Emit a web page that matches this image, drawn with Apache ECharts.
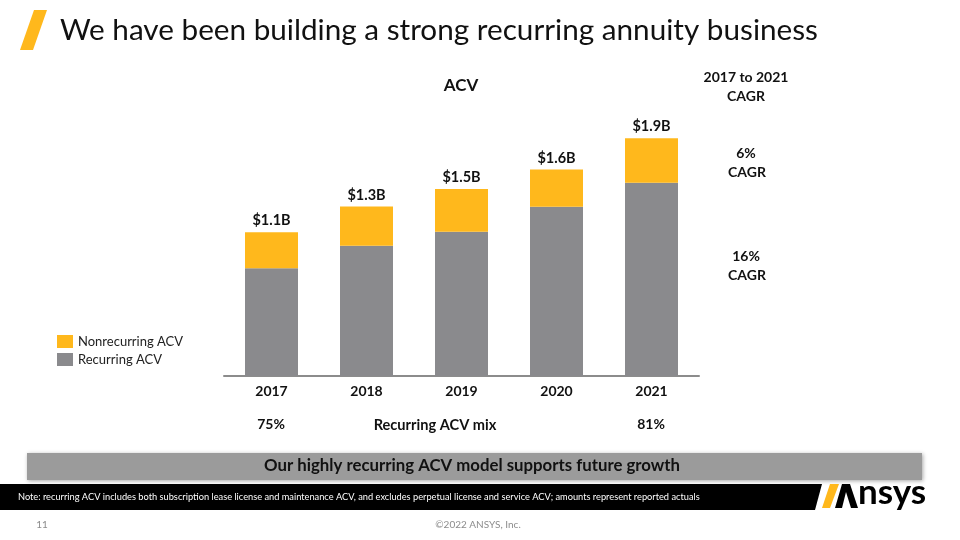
<!DOCTYPE html>
<html>
<head>
<meta charset="utf-8">
<script src="https://cdn.jsdelivr.net/npm/echarts@6/dist/echarts.min.js"></script>
<style>
html,body{margin:0;padding:0;background:#fff;}
#chart{width:960px;height:540px;}
</style>
</head>
<body>
<div id="chart"></div>
<script>
// ---- data (ACV, $M) ----
const years = ['2017', '2018', '2019', '2020', '2021'];
const recurringACV = [822, 994, 1101, 1291, 1474];
const nonrecurringACV = [275, 298, 326, 285, 339];
const totalLabels = ['$1.1B', '$1.3B', '$1.5B', '$1.6B', '$1.9B'];
const seriesNames = ['Recurring ACV', 'Nonrecurring ACV'];
const mixStart = '75%';
const mixEnd = '81%';
const cagrNonrec = '6%';
const cagrRec = '16%';

const FONT = 'Lato, "Noto Sans", sans-serif';
const YELLOW = '#FFB81C';
const GRAY = '#8A8A8D';

const chart = echarts.init(document.getElementById('chart'), null, {renderer: 'canvas'});

function txt(x, y, text, size, opts) {
  opts = opts || {};
  return {
    type: 'text', x: x, y: y,
    style: {
      text: text, fill: opts.color || '#111',
      font: (opts.weight || 'bold') + ' ' + size + 'px ' + FONT,
      textAlign: opts.align || 'center', textVerticalAlign: 'middle'
    },
    z: 10
  };
}

const option = {
  animation: false,
  backgroundColor: '#fff',
  grid: {left: 224, width: 475, top: 113.8, height: 262.2},
  legend: {
    data: ['Nonrecurring ACV', 'Recurring ACV'],
    orient: 'vertical', left: 52, top: 330,
    itemWidth: 16, itemHeight: 13, itemGap: 5,
    icon: 'rect',
    textStyle: {fontFamily: FONT, fontSize: 13, color: '#222'}
  },
  xAxis: {
    type: 'category', data: years,
    axisLine: {lineStyle: {color: '#8C8C8C', width: 2}},
    axisTick: {show: false},
    axisLabel: {fontFamily: FONT, fontWeight: 'bold', fontSize: 14, color: '#111', margin: 8}
  },
  yAxis: {type: 'value', min: 0, max: 2000, show: false, splitLine: {show: false}},
  series: [
    {
      name: seriesNames[0], type: 'bar', stack: 'acv', data: recurringACV,
      barWidth: 53, itemStyle: {color: GRAY}
    },
    {
      name: seriesNames[1], type: 'bar', stack: 'acv', data: nonrecurringACV,
      barWidth: 53, itemStyle: {color: YELLOW},
      label: {
        show: true, position: 'top', distance: 4,
        fontFamily: FONT, fontWeight: 'bold', fontSize: 14.5, color: '#111',
        formatter: function (p) { return totalLabels[p.dataIndex]; }
      }
    }
  ],
  graphic: [
    // title slash
    {type: 'polygon', shape: {points: [[34, 10], [47, 10], [33, 50], [20, 50]]}, style: {fill: YELLOW}},
    {type: 'text', x: 60, y: 30, style: {text: 'We have been building a strong recurring annuity business', fill: '#111', font: 'normal 29.7px ' + FONT, textAlign: 'left', textVerticalAlign: 'middle'}},
    txt(461, 86, 'ACV', 17),
    txt(746, 77, '2017 to 2021', 14),
    txt(746, 96, 'CAGR', 14),
    txt(746, 153, cagrNonrec, 14),
    txt(747, 172, 'CAGR', 14),
    txt(746, 256, cagrRec, 14),
    txt(747, 275, 'CAGR', 14),
    txt(271, 424, mixStart, 14),
    txt(435, 425, 'Recurring ACV mix', 14.6),
    txt(651, 424, mixEnd, 14),
    // banner
    {type: 'rect', shape: {x: 27, y: 453, width: 895, height: 27}, style: {fill: '#9B9B9B', shadowBlur: 4, shadowColor: 'rgba(0,0,0,0.35)', shadowOffsetX: 1, shadowOffsetY: 1}},
    txt(472, 466, 'Our highly recurring ACV model supports future growth', 16.8),
    // footer band
    {type: 'polygon', shape: {points: [[0, 484], [822, 484], [815, 510], [0, 510]]}, style: {fill: '#000'}},
    {type: 'text', x: 18, y: 497, style: {text: 'Note: recurring ACV includes both subscription lease license and maintenance ACV, and excludes perpetual license and service ACV; amounts represent reported actuals', fill: '#fff', font: 'normal 9.25px ' + FONT, textAlign: 'left', textVerticalAlign: 'middle'}},
    // logo
    {type: 'polygon', shape: {points: [[830, 484], [839, 484], [830, 508], [822, 508]]}, style: {fill: YELLOW}},
    {type: 'polygon', shape: {points: [[835, 508], [842, 484], [850, 484], [858, 508], [851, 508], [846, 492], [842, 508]]}, style: {fill: '#000'}},
    {type: 'text', x: 858, y: 510, style: {text: 'nsys', fill: '#000', font: 'bold 35px ' + FONT, textAlign: 'left', textVerticalAlign: 'bottom'}},
    // page footer
    txt(42, 525, '11', 10, {weight: 'normal', color: '#8C8C8C'}),
    txt(478, 525, '\u00A92022 ANSYS, Inc.', 10, {weight: 'normal', color: '#8C8C8C'})
  ]
};
chart.setOption(option);
</script>
</body>
</html>
